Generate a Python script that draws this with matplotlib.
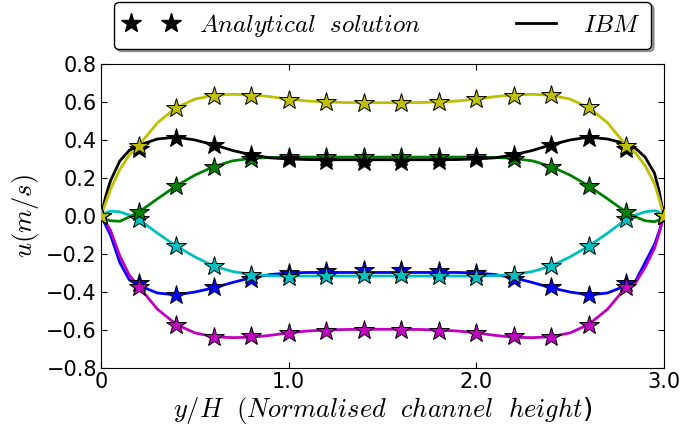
import numpy as np
import matplotlib
matplotlib.use('Agg')
import matplotlib.pyplot as plt
from matplotlib.lines import Line2D

plt.rcParams['mathtext.fontset'] = 'cm'
plt.rcParams['font.family'] = ['DejaVu Sans']

# analytical solution, stars every 0.2 of channel height
x_ana = [0.0, 0.2, 0.4, 0.6, 0.8, 1.0, 1.2, 1.4, 1.6, 1.8, 2.0, 2.2, 2.4, 2.6, 2.8, 3.0]
ana_y = [0.0, 0.37, 0.57, 0.633, 0.633, 0.61, 0.60, 0.596, 0.596, 0.60, 0.614, 0.633, 0.637, 0.572, 0.368, 0.0]
ana_k = [0.0, 0.35, 0.41, 0.374, 0.32, 0.30, 0.29, 0.286, 0.286, 0.29, 0.30, 0.32, 0.374, 0.41, 0.35, 0.0]
ana_g = [0.0, 0.02, 0.158, 0.26, 0.30, 0.31, 0.31, 0.31, 0.31, 0.31, 0.312, 0.30, 0.26, 0.158, 0.02, 0.0]
ana_c = [0.0, -0.017, -0.158, -0.263, -0.31, -0.32, -0.318, -0.31, -0.31, -0.318, -0.32, -0.31, -0.263, -0.158, -0.017, 0.0]
ana_b = [0.0, -0.35, -0.416, -0.375, -0.33, -0.30, -0.288, -0.285, -0.285, -0.288, -0.30, -0.33, -0.375, -0.416, -0.35, 0.0]
ana_m = [0.0, -0.372, -0.574, -0.635, -0.632, -0.614, -0.603, -0.60, -0.60, -0.603, -0.614, -0.632, -0.635, -0.574, -0.372, 0.0]

# IBM result
x_ibm = [0.0, 0.025, 0.05, 0.1, 0.15, 0.2, 0.3, 0.4, 0.5, 0.6, 0.7, 0.8, 0.9, 1.0, 1.1, 1.2, 1.3, 1.4, 1.5,
         1.6, 1.7, 1.8, 1.9, 2.0, 2.1, 2.2, 2.3, 2.4, 2.5, 2.6, 2.7, 2.8, 2.85, 2.9, 2.95, 2.975, 3.0]
ibm_y = [0.0, 0.07, 0.14, 0.245, 0.32, 0.37, 0.49, 0.57, 0.615, 0.635, 0.64, 0.638, 0.628, 0.615, 0.605, 0.60, 0.597, 0.596, 0.596,
         0.596, 0.597, 0.60, 0.605, 0.615, 0.628, 0.638, 0.64, 0.635, 0.615, 0.57, 0.49, 0.37, 0.33, 0.265, 0.17, 0.09, 0.0]
ibm_k = [0.0, 0.105, 0.185, 0.29, 0.345, 0.372, 0.405, 0.415, 0.40, 0.375, 0.345, 0.322, 0.306, 0.30, 0.297, 0.296, 0.296, 0.296, 0.296,
         0.296, 0.296, 0.296, 0.297, 0.30, 0.306, 0.322, 0.345, 0.375, 0.40, 0.415, 0.405, 0.38, 0.355, 0.31, 0.225, 0.13, 0.0]
ibm_g = [0.0, -0.017, -0.025, -0.028, -0.005, 0.02, 0.09, 0.158, 0.215, 0.26, 0.29, 0.303, 0.308, 0.31, 0.31, 0.31, 0.31, 0.31, 0.31,
         0.31, 0.31, 0.31, 0.31, 0.31, 0.308, 0.303, 0.29, 0.26, 0.215, 0.158, 0.09, 0.02, -0.005, -0.025, -0.03, -0.02, 0.0]
ibm_c = [0.0, 0.018, 0.025, 0.022, 0.005, -0.017, -0.09, -0.158, -0.215, -0.263, -0.292, -0.307, -0.314, -0.316, -0.316, -0.316, -0.316, -0.316, -0.316,
         -0.316, -0.316, -0.316, -0.316, -0.316, -0.314, -0.307, -0.292, -0.263, -0.215, -0.158, -0.09, -0.017, 0.005, 0.022, 0.028, 0.02, 0.0]
ibm_b = [0.0, -0.05, -0.1, -0.245, -0.335, -0.365, -0.405, -0.415, -0.40, -0.378, -0.35, -0.325, -0.308, -0.30, -0.297, -0.297, -0.297, -0.297, -0.297,
         -0.297, -0.297, -0.297, -0.297, -0.30, -0.308, -0.325, -0.35, -0.378, -0.40, -0.415, -0.405, -0.365, -0.34, -0.245, -0.15, -0.08, 0.0]
ibm_m = [0.0, -0.035, -0.075, -0.21, -0.31, -0.37, -0.49, -0.57, -0.615, -0.635, -0.64, -0.638, -0.628, -0.615, -0.605, -0.60, -0.597, -0.596, -0.596,
         -0.596, -0.597, -0.60, -0.605, -0.615, -0.628, -0.638, -0.64, -0.635, -0.615, -0.57, -0.49, -0.372, -0.35, -0.27, -0.17, -0.09, 0.0]

colors = {'y': (0.75, 0.75, 0), 'k': (0, 0, 0), 'g': (0, 0.5, 0),
          'c': (0, 0.75, 0.75), 'b': (0, 0, 1), 'm': (0.75, 0, 0.75)}
series = [('b', ana_b, ibm_b), ('m', ana_m, ibm_m), ('c', ana_c, ibm_c),
          ('g', ana_g, ibm_g), ('k', ana_k, ibm_k), ('y', ana_y, ibm_y)]

fig = plt.figure(figsize=(6.83, 4.32), dpi=100)
ax = fig.add_axes([0.148, 0.148, 0.824, 0.704])

for c, a, l in series:
    ax.plot(x_ibm, l, '-', color=colors[c], lw=2, zorder=2)
for c, a, l in series:
    ax.plot(x_ana, a, '*', color=colors[c], ms=15, mec='k', mew=0.7, zorder=3)

ax.set_xlim(0, 3.0)
ax.set_ylim(-0.8, 0.8)
ax.set_xticks([0, 1.0, 2.0, 3.0])
ax.set_xticklabels(['0', '1.0', '2.0', '3.0'])
ax.set_yticks(np.arange(-0.8, 0.81, 0.2))
ax.set_yticklabels(['\u22120.8', '\u22120.6', '\u22120.4', '\u22120.2', '0.0', '0.2', '0.4', '0.6', '0.8'])
ax.tick_params(direction='in', top=True, right=True, length=4, width=0.8, labelsize=15, pad=3)

ax.set_xlabel(r'$y/H\ \ (Normalised\ \ channel\ \ height$)', fontsize=19, labelpad=2)
ax.set_ylabel(r'$u(m/s)$', fontsize=19, labelpad=4)

h_star = Line2D([], [], ls='none', marker='*', color='k', ms=15, mec='k')
h_line = Line2D([], [], ls='-', color='k', lw=2)
ax.legend([h_star, h_line], [r'$Analytical\ \ solution$', r'$IBM$'], ncol=2, numpoints=2,
          loc='lower center', bbox_to_anchor=(0.5, 1.05), fontsize=18, fancybox=True, shadow=True,
          framealpha=1, edgecolor='k', handlelength=2.2, columnspacing=3.5, borderaxespad=0)

fig.savefig('out.png', dpi=100)
